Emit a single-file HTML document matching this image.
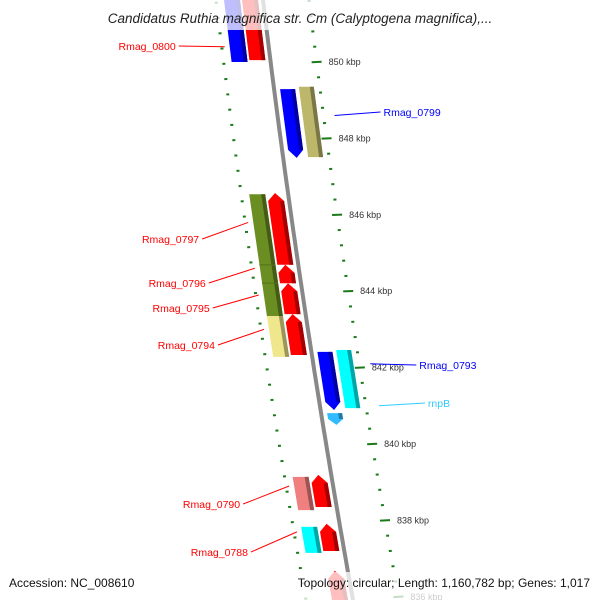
<!DOCTYPE html>
<html><head><meta charset="utf-8"><style>
html,body{margin:0;padding:0;background:#fff;}
svg{display:block;font-family:"Liberation Sans","DejaVu Sans",sans-serif;}
</style></head><body>
<svg id="map" width="600" height="600" viewBox="0 0 600 600">
<g id="ticks"></g>
<path id="backbone" fill="none" stroke="#888" stroke-width="4"/>
<g id="genes"></g>
<g id="labels"></g>
<rect x="0" y="0" width="600" height="30" fill="#fff" fill-opacity="0.75"/>
<text x="300" y="23" text-anchor="middle" font-size="13.5" font-style="italic" fill="#222">Candidatus Ruthia magnifica str. Cm (Calyptogena magnifica),...</text>
<rect x="0" y="572" width="600" height="28" fill="#fff" fill-opacity="0.75"/>
<text x="9" y="587" font-size="12" fill="#111">Accession: NC_008610</text>
<text x="590" y="587" font-size="12" fill="#111" text-anchor="end">Topology: circular; Length: 1,160,782 bp; Genes: 1,017</text>
</svg>
<script>
// Gene data (kbp positions)
const geneNames = ["Rmag_0800","Rmag_0800b","Rmag_0799","Rmag_0799b","Rmag_0797","Rmag_0797b","Rmag_0796","Rmag_0795","Rmag_0794","Rmag_0794b","Rmag_0793","Rmag_0793b","rnpB","Rmag_0790","Rmag_0790b","Rmag_0788","Rmag_0788b","Rmag_0786"];
const geneStart = [851.75,851.75,849.29,849.35,846.54,846.57,844.69,844.21,843.35,843.40,842.41,842.46,840.81,839.14,839.19,837.83,837.91,836.68];
const geneEnd   = [850.0,850.05,847.49,847.51,843.35,844.69,844.21,843.40,842.28,842.33,840.89,840.94,840.50,838.27,838.35,837.15,837.20,835.65];
const geneTrack = [-2,-1,1,2,-2,-1,-1,-1,-2,-1,1,2,1,-2,-1,-2,-1,-1];
const geneArrow = [0,0,-1,0,0,1,1,1,0,1,-1,0,-1,0,1,0,1,1];
const geneColor = ["#0000ff","#ff0000","#0000ff","#bdb76b","#6b8e23","#ff0000","#ff0000","#ff0000","#f0e68c","#ff0000","#0000ff","#00ffff","#33bbff","#f08080","#ff0000","#00ffff","#ff0000","#ff0000"];
// Labels
const labelText = ["Rmag_0800","Rmag_0799","Rmag_0797","Rmag_0796","Rmag_0795","Rmag_0794","Rmag_0793","rnpB","Rmag_0790","Rmag_0788"];
const labelKbp  = [850.4,848.6,845.8,844.6,843.9,843.0,842.1,841.0,838.9,837.7];
const labelSide = [-1,1,-1,-1,-1,-1,1,1,-1,-1];
const labelColor= ["#ff0000","#0000ff","#ff0000","#ff0000","#ff0000","#ff0000","#0000ff","#33ccff","#ff0000","#ff0000"];
const labelTextY= [47,113,240,284,309,346,366,404,505,553];
// Ticks
const majorTicks = [850,848,846,844,842,840,838,836];
const tickLabels = ["850 kbp","848 kbp","846 kbp","844 kbp","842 kbp","840 kbp","838 kbp","836 kbp"];

const NS="http://www.w3.org/2000/svg";
function yOf(k){return 62+(850-k)*38.2;}
function bx(y){return 263+0.12*y+5e-5*y*y;}
function mk(tag,attrs,parent){const e=document.createElementNS(NS,tag);for(const a in attrs)e.setAttribute(a,attrs[a]);parent.appendChild(e);return e;}

// backbone
let d="";for(let y=-10;y<=610;y+=10){d+=(y===-10?"M":"L")+bx(y).toFixed(1)+","+y;}
document.getElementById("backbone").setAttribute("d",d);

// ticks
const tg=document.getElementById("ticks");
function tick(x,y,len,w){
  const s=0.12+1e-4*y; const l=len/2;
  const t=mk("line",{x1:x-l,y1:y+l*s*0.3,x2:x+l,y2:y-l*s*0.3,stroke:"#1a7a1a","stroke-width":w},tg);
  return t;
}
for(let k=852;k>=835;k=Math.round((k-0.4)*10)/10){
  const y=yOf(k); if(y<-5||y>605)continue;
  const major=majorTicks.some(m=>Math.abs(m-k)<0.01);
  const t=tick(bx(y)+46,y,major?10:3,2);
  
  
}
majorTicks.forEach((k,i)=>{
  const y=yOf(k);
  const t=mk("text",{x:bx(y)+58,y:y+3,"font-size":"9",fill:"#333"},tg);
  t.textContent=tickLabels[i];
  
  
});
for(let k=851.9;k>=835;k=Math.round((k-0.4)*10)/10){
  const y=yOf(k)-2; if(y<-5||y>605)continue;
  const major=Math.abs(((850-k)%2+2)%2-0.3)<0.05;
  const t=tick(bx(y)-47,y,major?10:3,2);
  
  
}

// genes
const gg=document.getElementById("genes");
const trackOff={"-2":[-39,-23],"-1":[-21,-5],"1":[6,21],"2":[25,40]};
function shade(c){const n=parseInt(c.slice(1),16);const r=(n>>16)*0.65|0,g=((n>>8)&255)*0.65|0,b=(n&255)*0.65|0;return "rgb("+r+","+g+","+b+")";}
geneNames.forEach((n,i)=>{
  const y0=yOf(geneStart[i]),y1=yOf(geneEnd[i]);
  const [a,b]=trackOff[geneTrack[i]];
  const m=(a+b)/2, ah=Math.min(8,(y1-y0)/2);
  let pts;
  if(geneArrow[i]===-1){ // tip at bottom
    const yb=y1-ah;
    pts=[[bx(y0)+a,y0],[bx(y0)+b,y0],[bx(yb)+b,yb],[bx(y1)+m,y1],[bx(yb)+a,yb]];
  } else if(geneArrow[i]===1){ // tip at top
    const yt=y0+ah;
    pts=[[bx(y0)+m,y0],[bx(yt)+b,yt],[bx(y1)+b,y1],[bx(y1)+a,y1],[bx(yt)+a,yt]];
  } else {
    pts=[[bx(y0)+a,y0],[bx(y0)+b,y0],[bx(y1)+b,y1],[bx(y1)+a,y1]];
  }
  const g=mk("g",{},gg);
  
  
  mk("polygon",{points:pts.map(p=>p[0].toFixed(1)+","+p[1].toFixed(1)).join(" "),fill:geneColor[i]},g);
  // 3D edge
  const e1=b-4;
  const ys=geneArrow[i]===1?y0+ah:y0, ye=geneArrow[i]===-1?y1-ah:y1;
  mk("polygon",{points:[[bx(ys)+e1,ys],[bx(ys)+b,ys],[bx(ye)+b,ye],[bx(ye)+e1,ye]].map(p=>p[0].toFixed(1)+","+p[1].toFixed(1)).join(" "),fill:shade(geneColor[i])},g);
});
// olive segment lines
[844.69,844.21].forEach(k=>{const y=yOf(k);const l=mk("line",{x1:bx(y)-39,y1:y,x2:bx(y)-23,y2:y,stroke:"#55701a","stroke-width":1},gg);

});

// labels
const lg=document.getElementById("labels");
labelText.forEach((t,i)=>{
  const y=yOf(labelKbp[i]);
  const ty=labelTextY[i];
  let x1,x2,tx,anchor;
  if(labelSide[i]<0){x1=bx(y)-44;x2=x1-46;tx=x2-3;anchor="end";}
  else{x1=bx(y)+57+(t==="rnpB"?2:0);x2=x1+46;tx=x2+3;anchor="start";}
  const ln=mk("line",{x1:x1,y1:y,x2:x2,y2:ty-1,stroke:labelColor[i],"stroke-width":1},lg);
  
  
  const tx1=mk("text",{x:tx,y:ty+3,"font-size":"10.5","text-anchor":anchor,fill:labelColor[i]},lg);
  tx1.textContent=t;
  
  
});
</script>
</body></html>
